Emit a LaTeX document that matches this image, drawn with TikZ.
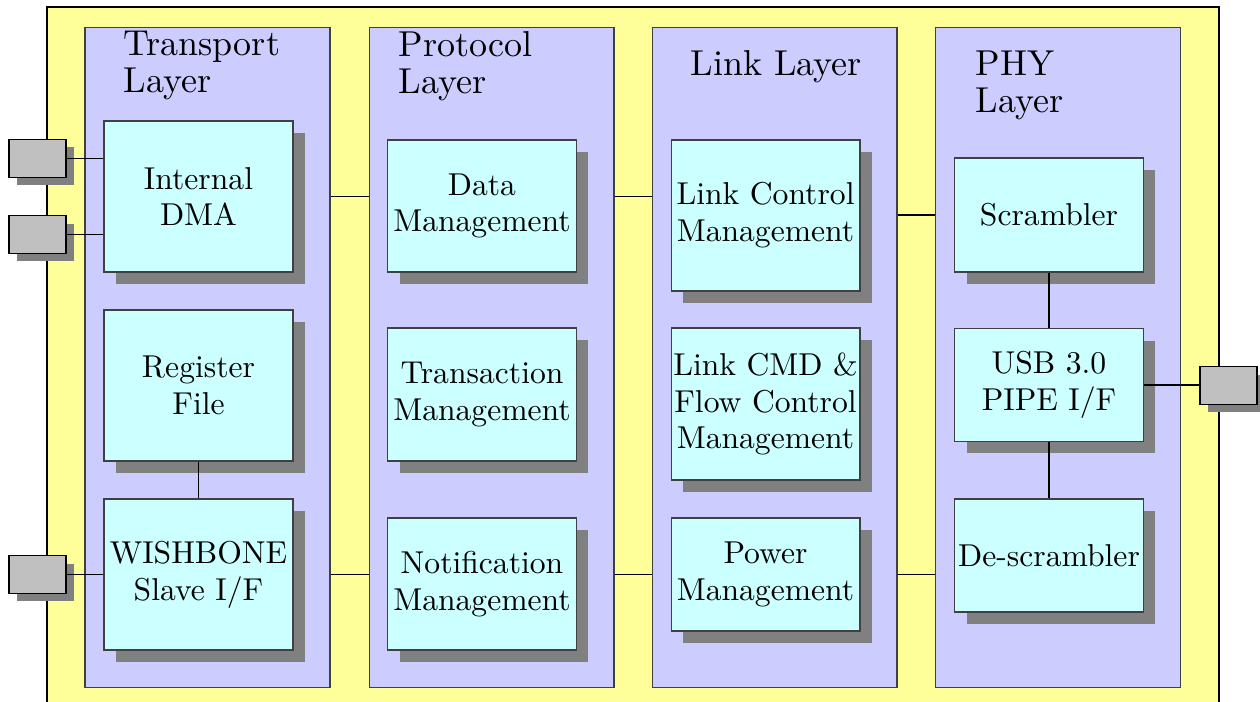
\documentclass[tikz,border=0pt]{standalone}
\usepackage{fontspec}
\setmainfont{lmroman10-regular.otf}
\usepackage{tikz}
\usetikzlibrary{positioning, shadows}
\usepackage{xcolor}
\definecolor{chipyellow}{HTML}{FFFF99}
\definecolor{layerblue}{HTML}{CCCCFF}
\definecolor{blockcyan}{HTML}{CCFFFF}
\definecolor{portgray}{HTML}{C0C0C0}
\definecolor{shadegray}{HTML}{808080}

\begin{document}
\begin{tikzpicture}[x=0.02cm, y=-0.02cm, line width=0.6pt,
    layer/.style={draw=black!75, fill=layerblue, minimum width=4.9cm, minimum height=13.22cm, inner sep=0},
    layertitle/.style={anchor=north west, align=left, inner sep=0, font=\fontsize{20.5}{21}\selectfont},
    block/.style={draw=black!75, fill=blockcyan, minimum width=3.78cm, align=center, inner sep=0,
        font=\fontsize{18}{21}\selectfont,
        drop shadow={shadow xshift=0.24cm, shadow yshift=-0.24cm, fill=shadegray, opacity=1}},
    port/.style={draw=black, fill=portgray, minimum width=1.14cm, minimum height=0.76cm, inner sep=0,
        drop shadow={shadow xshift=0.16cm, shadow yshift=-0.16cm, fill=shadegray, opacity=1}}]

\clip (0,0) rectangle (1260,702);
\filldraw[draw=black, fill=chipyellow] (47,7) rectangle (1219,720);

\node[layer] (transport) at (207.5,357.5) {};
\node[layer] (protocol) at (491.5,357.5) {};
\node[layer] (link) at (774.5,357.5) {};
\node[layer] (phy) at (1058,357.5) {};

\node[layertitle] (transport title) at (123,31) {Transport\\Layer};
\node[layertitle] (protocol title) at (398,31) {Protocol\\Layer};
\node[layertitle] (link title) at (690,50) {Link Layer};
\node[layertitle] (phy title) at (975,50) {PHY\\Layer};

\node[block, minimum height=3.02cm] (dma) at (198.5,196.5) {Internal\\DMA};
\node[block, minimum height=3.02cm] (regfile) at (198.5,385.5) {Register\\File};
\node[block, minimum height=3.02cm] (wishbone) at (198.5,574.5) {WISHBONE\\Slave I/F};

\node[block, minimum height=2.64cm] (datamgmt) at (482,206) {Data\\Management};
\node[block, minimum height=2.66cm] (transmgmt) at (482,394.5) {Transaction\\Management};
\node[block, minimum height=2.64cm] (notifmgmt) at (482,584) {Notification\\Management};

\node[block, minimum height=3.02cm] (linkctrl) at (765.5,215.5) {Link Control\\Management};
\node[block, minimum height=3.04cm] (linkcmd) at (765.5,404) {Link CMD \&\\Flow Control\\Management};
\node[block, minimum height=2.26cm] (powermgmt) at (765.5,574.5) {Power\\Management};

\node[block, minimum height=2.28cm] (scrambler) at (1049,215) {Scrambler};
\node[block, minimum height=2.26cm] (pipe) at (1049,385) {USB 3.0\\PIPE I/F};
\node[block, minimum height=2.26cm] (descrambler) at (1049,555.5) {De-scrambler};

\node[port] (p1) at (37.5,158.5) {};
\node[port] (p2) at (37.5,234.5) {};
\node[port] (p3) at (37.5,574.5) {};
\node[port] (p4) at (1228.5,385.5) {};

\draw (p1.east) -- (p1.east -| dma.west);
\draw (p2.east) -- (p2.east -| dma.west);
\draw (p3.east) -- (p3.east -| wishbone.west);
\draw (regfile.south) -- (wishbone.north);
\draw (transport.east |- dma) -- (protocol.west |- dma);
\draw (protocol.east |- dma) -- (link.west |- dma);
\draw (link.east |- scrambler) -- (phy.west |- scrambler);
\draw (transport.east |- wishbone) -- (protocol.west |- wishbone);
\draw (protocol.east |- wishbone) -- (link.west |- wishbone);
\draw (link.east |- wishbone) -- (phy.west |- wishbone);
\draw (scrambler.south) -- (pipe.north);
\draw (pipe.south) -- (descrambler.north);
\draw (pipe.east) -- (pipe.east -| p4.west);
\end{tikzpicture}
\end{document}
